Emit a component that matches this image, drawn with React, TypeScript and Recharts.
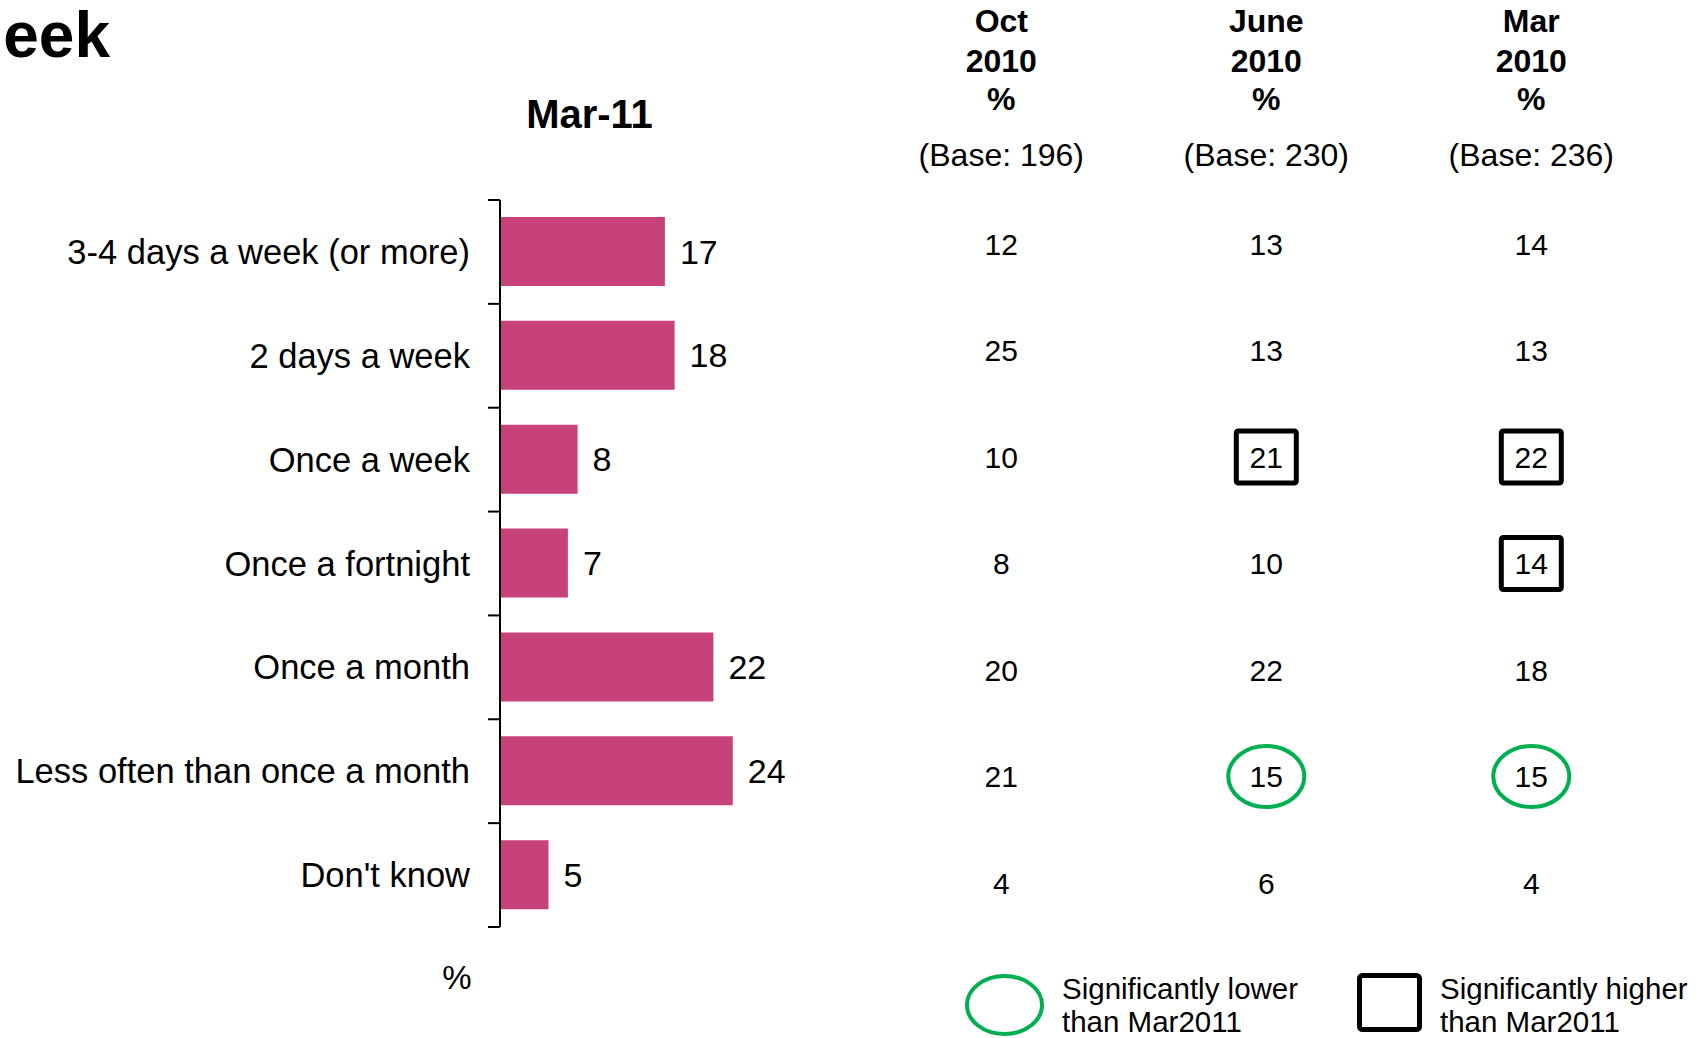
import React from 'react';
import { BarChart, Bar, XAxis, YAxis, LabelList, ScatterChart, Scatter } from 'recharts';

const FONT = '"Liberation Sans", Arial, Helvetica, sans-serif';

const categories = [
  '3-4 days a week (or more)',
  '2 days a week',
  'Once a week',
  'Once a fortnight',
  'Once a month',
  'Less often than once a month',
  "Don't know",
];
const mar11Values = [17, 18, 8, 7, 22, 24, 5];
const oct2010Values = [12, 25, 10, 8, 20, 21, 4];
const june2010Values = [13, 13, 21, 10, 22, 15, 6];
const mar2010Values = [14, 13, 22, 14, 18, 15, 4];
const oct2010Sig = ['', '', '', '', '', '', ''];
const june2010Sig = ['', '', 'higher', '', '', 'lower', ''];
const mar2010Sig = ['', '', 'higher', 'higher', '', 'lower', ''];

const columnMonths = ['Oct', 'June', 'Mar'];
const columnYears = ['2010', '2010', '2010'];
const columnBases = [196, 230, 236];

const chartTitle = 'Mar-11';
const pageTitle = 'eek';
const unitLabel = '%';
const legendLower = ['Significantly lower', 'than Mar2011'];
const legendHigher = ['Significantly higher', 'than Mar2011'];

const BAR_COLOR = '#C7417B';
const GREEN = '#00B050';

const barData = categories.map((c, i) => ({ category: c, value: mar11Values[i] }));

const columnValues = [oct2010Values, june2010Values, mar2010Values];
const columnSig = [oct2010Sig, june2010Sig, mar2010Sig];
const tableSeries = columnValues.map((vals, ci) =>
  vals.map((v, ri) => ({ col: ci, row: ri, value: v, sig: columnSig[ci][ri] }))
);

const BAR_TOP = 200;
const BAR_BOTTOM = 927;
const AXIS_X = 500;
const BAND = (BAR_BOTTOM - BAR_TOP) / categories.length;

const CategoryTick = (props: any) => {
  const { y, payload, index } = props;
  return (
    <g>
      <line x1={AXIS_X - 12} x2={AXIS_X} y1={y - BAND / 2} y2={y - BAND / 2} stroke="#000" strokeWidth={2} />
      {index === categories.length - 1 && (
        <line x1={AXIS_X - 12} x2={AXIS_X} y1={y + BAND / 2} y2={y + BAND / 2} stroke="#000" strokeWidth={2} />
      )}
      <text x={470} y={y + 12} textAnchor="end" fontSize={34.5} fontFamily={FONT} fill="#000">
        {payload.value}
      </text>
    </g>
  );
};

const TABLE_TOP = 190.75;

const HeaderTick = (props: any) => {
  const { x, y, payload } = props;
  const i = payload.value as number;
  const base = typeof y === 'number' ? y : TABLE_TOP;
  return (
    <g fontFamily={FONT} fill="#000" textAnchor="middle">
      <text x={x} y={base - 158.5} fontSize={32} fontWeight="bold">{columnMonths[i]}</text>
      <text x={x} y={base - 118.5} fontSize={32} fontWeight="bold">{columnYears[i]}</text>
      <text x={x} y={base - 80.5} fontSize={32} fontWeight="bold">%</text>
      <text x={x} y={base - 24.5} fontSize={32}>{`(Base: ${columnBases[i]})`}</text>
    </g>
  );
};

const CellShape = (props: any) => {
  const { cx, cy, payload } = props;
  if (cx == null || cy == null) return null;
  return (
    <g>
      {payload.sig === 'lower' && (
        <ellipse cx={cx} cy={cy} rx={38} ry={30.5} fill="none" stroke={GREEN} strokeWidth={4} />
      )}
      {payload.sig === 'higher' && (
        <rect x={cx - 30} y={cy - 26} width={60} height={52} rx={2} fill="none" stroke="#000" strokeWidth={5} />
      )}
      <text x={cx} y={cy + 10.7} textAnchor="middle" fontSize={30} fontFamily={FONT} fill="#000">
        {payload.value}
      </text>
    </g>
  );
};

export default function App() {
  return (
    <div style={{ position: 'absolute', left: 0, top: 0, width: 1701, height: 1038, background: '#fff', overflow: 'hidden' }}>
      <div style={{ position: 'absolute', left: 0, top: 0 }}>
        <BarChart
          layout="vertical"
          width={850}
          height={1038}
          data={barData}
          margin={{ top: BAR_TOP, right: 59, bottom: 1038 - BAR_BOTTOM, left: 0 }}
        >
          <XAxis type="number" domain={[0, 30]} hide height={0} />
          <YAxis
            type="category"
            dataKey="category"
            width={AXIS_X}
            interval={0}
            axisLine={{ stroke: '#000', strokeWidth: 2 }}
            tickLine={false}
            tick={<CategoryTick />}
          />
          <Bar dataKey="value" fill={BAR_COLOR} barSize={69} isAnimationActive={false}>
            <LabelList dataKey="value" position="right" offset={15} fill="#000" fontSize={34} fontFamily={FONT} />
          </Bar>
        </BarChart>
      </div>
      <div style={{ position: 'absolute', left: 0, top: 0 }}>
        <ScatterChart
          width={1701}
          height={1038}
          margin={{ top: TABLE_TOP - 190, right: 37.2, bottom: 101.75, left: 868.8 }}
        >
          <XAxis
            type="number"
            dataKey="col"
            orientation="top"
            domain={[-0.5, 2.5]}
            ticks={[0, 1, 2]}
            interval={0}
            height={190}
            tickSize={0}
            tickMargin={0}
            axisLine={false}
            tickLine={false}
            tick={<HeaderTick />}
          />
          <YAxis type="number" dataKey="row" domain={[-0.5, 6.5]} reversed hide width={0} />
          {tableSeries.map((s, i) => (
            <Scatter key={i} data={s} shape={<CellShape />} isAnimationActive={false} />
          ))}
        </ScatterChart>
      </div>
      <svg width={1701} height={1038} style={{ position: 'absolute', left: 0, top: 0, pointerEvents: 'none' }} fontFamily={FONT}>
        <text x={110} y={57} textAnchor="end" fontSize={64} fontWeight="bold" fill="#000">{pageTitle}</text>
        <text x={589.5} y={128} textAnchor="middle" fontSize={40} fontWeight="bold" fill="#000">{chartTitle}</text>
        <text x={457} y={989} textAnchor="middle" fontSize={33} fill="#000">{unitLabel}</text>
        <ellipse cx={1004.5} cy={1005} rx={37.5} ry={29} fill="none" stroke={GREEN} strokeWidth={4} />
        <text x={1062} y={998.5} fontSize={29.5} fill="#000">{legendLower[0]}</text>
        <text x={1062} y={1031.5} fontSize={29.5} fill="#000">{legendLower[1]}</text>
        <rect x={1359.5} y={975.5} width={60} height={54} rx={3} fill="none" stroke="#000" strokeWidth={5} />
        <text x={1440} y={998.5} fontSize={29.5} fill="#000">{legendHigher[0]}</text>
        <text x={1440} y={1031.5} fontSize={29.5} fill="#000">{legendHigher[1]}</text>
      </svg>
    </div>
  );
}
